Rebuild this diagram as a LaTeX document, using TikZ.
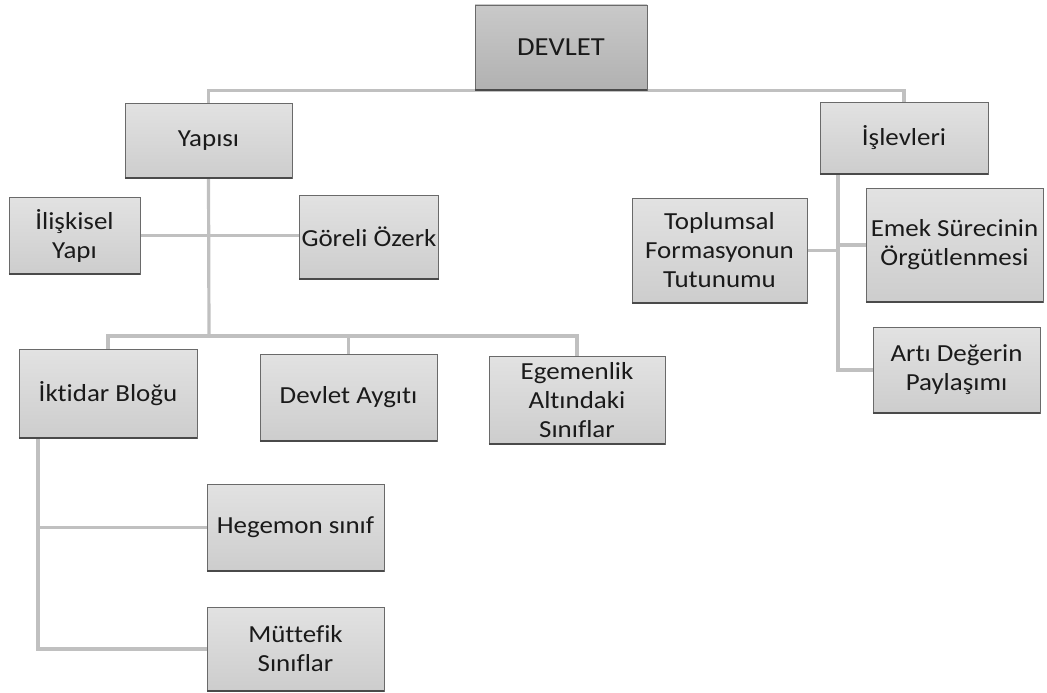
\documentclass[tikz,border=0pt]{standalone}
\usepackage{fontspec}
\setmainfont{Carlito}[FakeStretch=1.1, Ligatures=NoCommon]
\usepackage{xcolor}
\usetikzlibrary{backgrounds}

\definecolor{boxline}{HTML}{6A6A6A}
\definecolor{boxbase}{HTML}{4A4A4A}
\definecolor{boxtop}{HTML}{E2E2E2}
\definecolor{boxbot}{HTML}{CDCDCD}
\definecolor{headtop}{HTML}{C9C9C9}
\definecolor{headbot}{HTML}{B1B1B1}
\definecolor{connline}{HTML}{C0C0C0}
\definecolor{boxtext}{HTML}{1A1A1A}

\begin{document}
\begin{tikzpicture}[
  x=1pt, y=-1pt,
  box/.style={rectangle, draw=boxline, top color=boxtop, bottom color=boxbot, align=center, inner sep=2pt,
    font=\fontsize{24.5}{29}\selectfont, text=boxtext,
    append after command={(\tikzlastnode.south west) edge[draw=boxbase, line width=1.8pt] (\tikzlastnode.south east)}},
  headbox/.style={box, top color=headtop, bottom color=headbot, font=\fontsize{26}{30}\selectfont},
  conn/.style={draw=connline, line width=3.2pt}
]
\useasboundingbox (0,0) rectangle (1047,693);

\node[headbox, minimum width=172pt, minimum height=85pt] (devlet) at (561,47.5) {DEVLET};
\node[box, minimum width=167pt, minimum height=75pt] (yapisi) at (208.5,140.5) {Yapısı};
\node[box, minimum width=168pt, minimum height=72pt] (islev) at (904,138) {İşlevleri};

\node[box, minimum width=131pt, minimum height=77pt] (iliskisel) at (74.5,235.5) {İlişkisel\\Yapı};
\node[box, minimum width=134pt, minimum height=84pt] (goreli) at (369,237) {Göreli Özerk};

\node[box, minimum width=175pt, minimum height=105pt] (toplumsal) at (719.5,250.5) {Toplumsal\\Formasyonun\\Tutunumu};
\node[box, minimum width=177pt, minimum height=114pt] (emek) at (954.5,245) {Emek Sürecinin\\Örgütlenmesi};
\node[box, minimum width=167pt, minimum height=86pt] (arti) at (956.5,370) {Artı Değerin\\Paylaşımı};

\node[box, minimum width=178pt, minimum height=89pt] (iktidar) at (108,393.5) {İktidar Bloğu};
\node[box, minimum width=177pt, minimum height=87pt] (aygit) at (348.5,397.5) {Devlet Aygıtı};
\node[box, minimum width=176pt, minimum height=88pt] (egemen) at (577,400) {Egemenlik\\Altındaki\\Sınıflar};

\node[box, minimum width=177pt, minimum height=87pt] (hegemon) at (295.5,527.5) {Hegemon sınıf};
\node[box, minimum width=177pt, minimum height=84pt] (muttefik) at (295.5,649) {Müttefik\\Sınıflar};

\coordinate (ysplit) at (209,336);
\coordinate (isplit) at (838,174);
\coordinate (ksplit) at (38,438);

\begin{scope}[on background layer]
\draw[conn] (yapisi.north) |- (devlet.south) -| (islev.north);
\draw[conn] (yapisi.south) -- (ysplit);
\draw[conn] (iliskisel.east) -- (iliskisel.east -| goreli.west);
\draw[conn] (iktidar.north) |- (ysplit) -| (egemen.north);
\draw[conn] (aygit.north) -- (aygit.north |- ysplit);
\draw[conn] (isplit) |- (arti.west);
\draw[conn] (toplumsal.east) -- (toplumsal.east -| isplit);
\draw[conn] (emek.west) -- (emek.west -| isplit);
\draw[conn] (ksplit) |- (muttefik.west);
\draw[conn] (ksplit |- hegemon.west) -- (hegemon.west);
\end{scope}
\end{tikzpicture}
\end{document}
